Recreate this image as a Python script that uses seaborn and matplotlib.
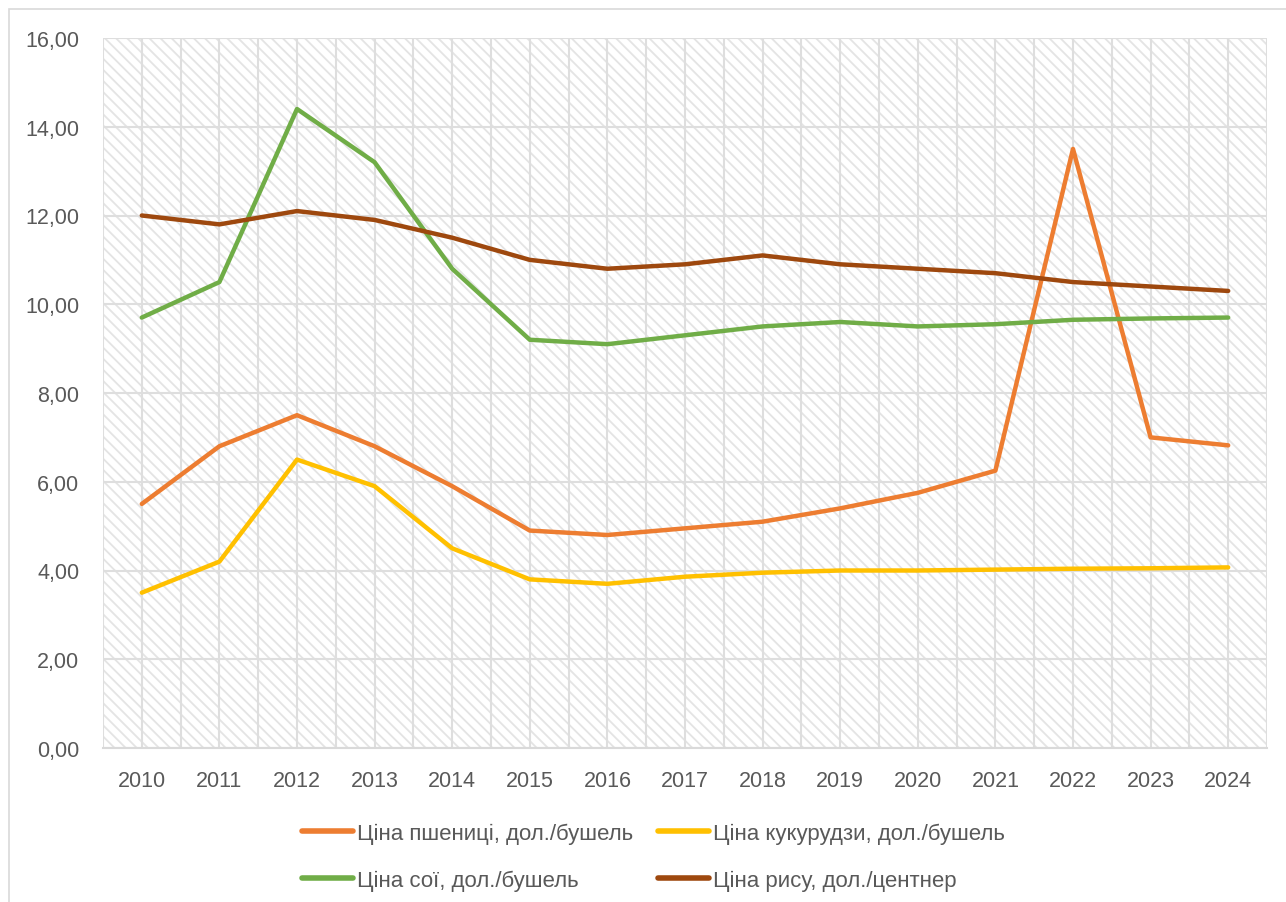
import numpy as np
import pandas as pd
import seaborn as sns
import matplotlib.pyplot as plt
from matplotlib.patches import Rectangle
from matplotlib.ticker import FuncFormatter, MultipleLocator

years = list(range(2010, 2025))

wheat = [5.5, 6.8, 7.5, 6.8, 5.9, 4.9, 4.8, 4.95, 5.1, 5.4, 5.75, 6.25, 13.5, 7.0, 6.82]
corn = [3.5, 4.2, 6.5, 5.9, 4.5, 3.8, 3.7, 3.86, 3.95, 4.0, 4.0, 4.02, 4.04, 4.05, 4.07]
soy = [9.7, 10.5, 14.4, 13.2, 10.8, 9.2, 9.1, 9.3, 9.5, 9.6, 9.5, 9.55, 9.65, 9.68, 9.7]
rice = [12.0, 11.8, 12.1, 11.9, 11.5, 11.0, 10.8, 10.9, 11.1, 10.9, 10.8, 10.7, 10.5, 10.4, 10.3]

labels = ["Ціна пшениці, дол./бушель", "Ціна кукурудзи, дол./бушель",
          "Ціна сої, дол./бушель", "Ціна рису, дол./центнер"]
colors = ["#ED7D31", "#FFC000", "#70AD47", "#9E480E"]

df = pd.concat([
    pd.DataFrame({"year": years, "value": vals, "series": name})
    for name, vals in zip(labels, [wheat, corn, soy, rice])
], ignore_index=True)

sns.set_style("white")
plt.rcParams['font.family'] = ['Liberation Sans', 'DejaVu Sans']
plt.rcParams['hatch.linewidth'] = 1.3

text_color = "#595959"
grid_color = "#dedede"

fig = plt.figure(figsize=(12.86, 9.03), dpi=100)
ax = fig.add_axes([103 / 1286, 1 - 749 / 903, (1267 - 103) / 1286, (749 - 39) / 903])

# outer chart border
fig.patches.append(Rectangle((9 / 1286, -0.01), 1.02, 1 - 10 / 903 + 0.01,
                             transform=fig.transFigure, fill=False,
                             edgecolor="#d9d9d9", linewidth=1.2))

# hatched plot area
ax.add_patch(Rectangle((0, 0), 1, 1, transform=ax.transAxes, facecolor="white",
                       edgecolor="#e4e4e4", linewidth=0, hatch="\\\\\\", zorder=0))

sns.lineplot(data=df, x="year", y="value", hue="series", palette=colors,
             linewidth=3.2, ax=ax, zorder=3)

ax.set_xlim(2009.5, 2024.5)
ax.set_ylim(0, 16)
ax.set_xticks(years)
ax.xaxis.set_minor_locator(MultipleLocator(0.5))
ax.yaxis.set_major_locator(MultipleLocator(2))
ax.yaxis.set_major_formatter(FuncFormatter(lambda v, p: f"{v:.2f}".replace(".", ",")))
ax.grid(True, which="both", axis="x", color=grid_color, linewidth=1.5, zorder=1)
ax.grid(True, which="major", axis="y", color=grid_color, linewidth=1.5, zorder=1)
ax.set_axisbelow(True)
ax.set_xlabel("")
ax.set_ylabel("")
ax.tick_params(axis="both", which="both", length=0, labelsize=15.5, colors=text_color)
ax.tick_params(axis="y", pad=17)
ax.tick_params(axis="x", pad=16)
for side in ["top", "left", "right"]:
    ax.spines[side].set_visible(False)
ax.spines["bottom"].set_color("#d9d9d9")
ax.spines["bottom"].set_linewidth(1.5)

handles, lbls = ax.get_legend_handles_labels()
ax.get_legend().remove()
order = [0, 2, 1, 3]  # row-wise like the original
leg = fig.legend([handles[i] for i in order], [lbls[i] for i in order], ncol=2,
                 loc="center", bbox_to_anchor=(0.508, 0.050),
                 frameon=False, fontsize=16, handlelength=2.3, handletextpad=0.2,
                 columnspacing=1.1, labelspacing=1.15)
for t in leg.get_texts():
    t.set_color(text_color)
for h in leg.legend_handles:
    h.set_linewidth(4)

fig.savefig("out.png", dpi=100)
